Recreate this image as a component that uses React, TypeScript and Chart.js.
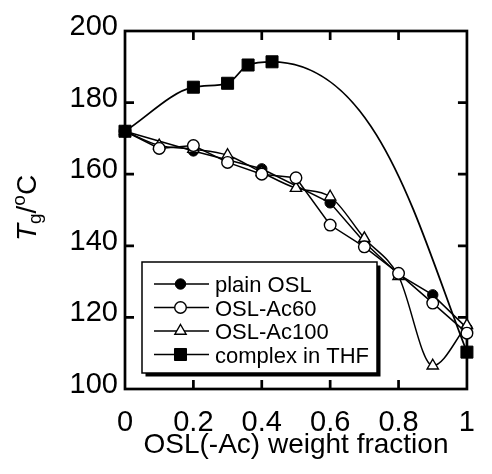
import React, { useEffect, useRef } from 'react';
import { Chart, registerables } from 'chart.js';

Chart.register(...registerables);

const FONT = "'Liberation Sans', Arial, Helvetica, sans-serif";

// ---- axes ----
const xTickValues = [0, 0.2, 0.4, 0.6, 0.8, 1];
const yTickValues = [100, 120, 140, 160, 180, 200];
const xAxisTitle = 'OSL(-Ac) weight fraction';

// ---- series ----
const seriesNames = ['plain OSL', 'OSL-Ac60', 'OSL-Ac100', 'complex in THF'];

const plainX = [0, 0.2, 0.4, 0.6, 0.7, 0.8, 0.9, 1];
const plainY = [172, 166.5, 161.5, 152, 141, 132, 126.3, 117];

const ac60X = [0, 0.1, 0.2, 0.3, 0.4, 0.5, 0.6, 0.7, 0.8, 0.9, 1];
const ac60Y = [172, 167.2, 168, 163.3, 160, 159, 145.8, 139.7, 132.3, 124, 115.6];

const ac100X = [0, 0.1, 0.2, 0.3, 0.4, 0.5, 0.6, 0.7, 0.8, 0.9, 1];
const ac100Y = [172, 168, 167, 165.3, 160.5, 156.1, 153.7, 142.1, 131.5, 106.5, 117.8];

const thfX = [0, 0.2, 0.3, 0.36, 0.43, 1];
const thfY = [172, 184.3, 185.4, 190.5, 191.4, 110.3];

// ---- styles ----
const markerStyles = [
  { style: 'circle', radius: 5.2, fill: '#000', width: 1 },
  { style: 'circle', radius: 5.8, fill: '#fff', width: 1.4 },
  { style: 'triangle', radius: 6.5, fill: '#fff', width: 1.4 },
  { style: 'rect', radius: 8.5, fill: '#000', width: 1 },
];
const lineModes = ['default', 'default', 'monotone', 'monotone'];
const drawOrder = [3, 1, 2, 0];

function makeSet(i: number, xs: number[], ys: number[]) {
  const m = markerStyles[i];
  return {
    label: seriesNames[i],
    data: xs.map((x, k) => ({ x, y: ys[k] })),
    borderColor: '#000',
    borderWidth: i === 3 ? 1.8 : 1.5,
    pointStyle: m.style,
    pointRadius: m.radius,
    pointHoverRadius: m.radius,
    pointBackgroundColor: m.fill,
    pointBorderColor: '#000',
    pointBorderWidth: m.width,
    showLine: true,
    fill: false,
    tension: 0,
    cubicInterpolationMode: lineModes[i],
    order: drawOrder[i],
    clip: false,
  };
}

function drawMarker(ctx: CanvasRenderingContext2D, i: number, x: number, y: number) {
  const m = markerStyles[i];
  const r = m.radius;
  ctx.beginPath();
  if (m.style === 'circle') {
    ctx.arc(x, y, r, 0, Math.PI * 2);
  } else if (m.style === 'triangle') {
    ctx.moveTo(x, y - r);
    ctx.lineTo(x + r * Math.sin((2 * Math.PI) / 3), y - r * Math.cos((2 * Math.PI) / 3));
    ctx.lineTo(x + r * Math.sin((4 * Math.PI) / 3), y - r * Math.cos((4 * Math.PI) / 3));
  } else {
    const s = r * Math.SQRT1_2;
    ctx.rect(x - s, y - s, 2 * s, 2 * s);
  }
  ctx.closePath();
  ctx.fillStyle = m.fill;
  ctx.fill();
  ctx.lineWidth = m.width;
  ctx.strokeStyle = '#000';
  ctx.stroke();
}

const framePlugin = {
  id: 'frame',
  beforeDatasetsDraw(chart: any) {
    const { ctx } = chart;
    const { left, right, top, bottom } = chart.chartArea;
    const xs = chart.scales.x;
    const ys = chart.scales.y;
    ctx.save();
    ctx.strokeStyle = '#000';
    ctx.lineWidth = 2.7;
    ctx.strokeRect(left, top, right - left, bottom - top);
    const tl = 9;
    ctx.beginPath();
    xTickValues.slice(1, -1).forEach((v) => {
      const px = xs.getPixelForValue(v);
      ctx.moveTo(px, bottom);
      ctx.lineTo(px, bottom - tl);
      ctx.moveTo(px, top);
      ctx.lineTo(px, top + tl);
    });
    yTickValues.slice(1, -1).forEach((v) => {
      const py = ys.getPixelForValue(v);
      ctx.moveTo(left, py);
      ctx.lineTo(left + tl, py);
      ctx.moveTo(right, py);
      ctx.lineTo(right - tl, py);
    });
    ctx.stroke();
    ctx.restore();
  },
};

// shapes the long final bend of the THF curve (handles only, from the data points)
const curvePlugin = {
  id: 'thfCurve',
  beforeDatasetDraw(chart: any, args: any) {
    if (args.index !== 3) return;
    const meta = args.meta;
    meta.dataset.updateControlPoints(chart.chartArea, 'x');
    const pts = meta.data;
    const n = pts.length;
    const a = pts[n - 2];
    const b = pts[n - 1];
    const dx = b.x - a.x;
    const dy = b.y - a.y;
    a.cp2x = a.x + 0.54 * dx;
    a.cp2y = a.y;
    b.cp1x = b.x - 0.25 * dx;
    b.cp1y = b.y - 0.43 * dy;
  },
};

const legendPlugin = {
  id: 'boxLegend',
  afterDatasetsDraw(chart: any) {
    const { ctx } = chart;
    const { left, bottom } = chart.chartArea;
    const bx = left + 17;
    const by = bottom - 127;
    const bw = 235;
    const bh = 111;
    ctx.save();
    ctx.fillStyle = '#000';
    ctx.fillRect(bx + 3.5, by + 3.5, bw, bh);
    ctx.fillStyle = '#fff';
    ctx.fillRect(bx, by, bw, bh);
    ctx.lineWidth = 1.5;
    ctx.strokeStyle = '#000';
    ctx.strokeRect(bx, by, bw, bh);
    seriesNames.forEach((name, i) => {
      const y = by + 22 + i * 23.5;
      ctx.beginPath();
      ctx.lineWidth = 1.5;
      ctx.strokeStyle = '#000';
      ctx.moveTo(bx + 12, y);
      ctx.lineTo(bx + 67, y);
      ctx.stroke();
      drawMarker(ctx, i, bx + 38.5, y);
      ctx.fillStyle = '#000';
      ctx.font = `22px ${FONT}`;
      ctx.textAlign = 'left';
      ctx.textBaseline = 'alphabetic';
      ctx.fillText(name, bx + 73, y + 8);
    });
    ctx.restore();
  },
};

const yTitlePlugin = {
  id: 'yTitle',
  afterDraw(chart: any) {
    const { ctx } = chart;
    const { top, bottom } = chart.chartArea;
    const big = 28;
    const small = 19;
    const parts = [
      { t: 'T', font: `italic ${big}px ${FONT}`, dy: 0 },
      { t: 'g', font: `${small}px ${FONT}`, dy: 5 },
      { t: '/', font: `${big}px ${FONT}`, dy: 0 },
      { t: 'o', font: `${small}px ${FONT}`, dy: -11 },
      { t: 'C', font: `${big}px ${FONT}`, dy: 0 },
    ];
    ctx.save();
    ctx.translate(36, (top + bottom) / 2 - 2);
    ctx.rotate(-Math.PI / 2);
    ctx.fillStyle = '#000';
    ctx.textBaseline = 'alphabetic';
    ctx.textAlign = 'left';
    let total = 0;
    const widths = parts.map((p) => {
      ctx.font = p.font;
      const w = ctx.measureText(p.t).width;
      total += w;
      return w;
    });
    let x = -total / 2;
    parts.forEach((p, i) => {
      ctx.font = p.font;
      ctx.fillText(p.t, x, p.dy);
      x += widths[i];
    });
    ctx.restore();
  },
};

export default function App() {
  const ref = useRef<HTMLCanvasElement | null>(null);

  useEffect(() => {
    if (!ref.current) return;
    Chart.defaults.font.family = FONT;
    const chart = new Chart(ref.current, {
      type: 'scatter',
      data: {
        datasets: [
          makeSet(0, plainX, plainY),
          makeSet(1, ac60X, ac60Y),
          makeSet(2, ac100X, ac100Y),
          makeSet(3, thfX, thfY),
        ] as any,
      },
      options: {
        responsive: false,
        animation: false,
        events: [],
        layout: { padding: { top: 31, right: 9, left: 0, bottom: 0 } },
        plugins: {
          legend: { display: false },
          tooltip: { enabled: false },
        },
        scales: {
          x: {
            type: 'linear',
            min: 0,
            max: 1,
            afterBuildTicks: (s: any) => {
              s.ticks = xTickValues.map((v) => ({ value: v }));
            },
            afterFit: (s: any) => {
              s.height = 85;
            },
            grid: { display: false, drawTicks: false },
            border: { display: false },
            ticks: {
              color: '#000',
              font: { size: 29, family: FONT },
              padding: 17,
              maxRotation: 0,
              autoSkip: false,
              callback: (v: any) => String(v),
            },
            title: {
              display: true,
              text: xAxisTitle,
              color: '#000',
              font: { size: 28, family: FONT },
              padding: { top: 0, bottom: 12 },
            },
          },
          y: {
            type: 'linear',
            min: 100,
            max: 200,
            afterBuildTicks: (s: any) => {
              s.ticks = yTickValues.map((v) => ({ value: v }));
            },
            afterFit: (s: any) => {
              s.width = 125;
            },
            grid: { display: false, drawTicks: false },
            border: { display: false },
            ticks: {
              color: '#000',
              font: { size: 29, family: FONT },
              padding: 7,
              labelOffset: -4,
              callback: (v: any) => String(v),
            },
          },
        },
      } as any,
      plugins: [framePlugin, curvePlugin, legendPlugin, yTitlePlugin],
    });
    return () => chart.destroy();
  }, []);

  return (
    <div style={{ position: 'fixed', left: 0, top: 0, width: 492, height: 474, background: '#fff' }}>
      <canvas ref={ref} width={492} height={474} style={{ display: 'block', width: 492, height: 474 }} />
    </div>
  );
}
